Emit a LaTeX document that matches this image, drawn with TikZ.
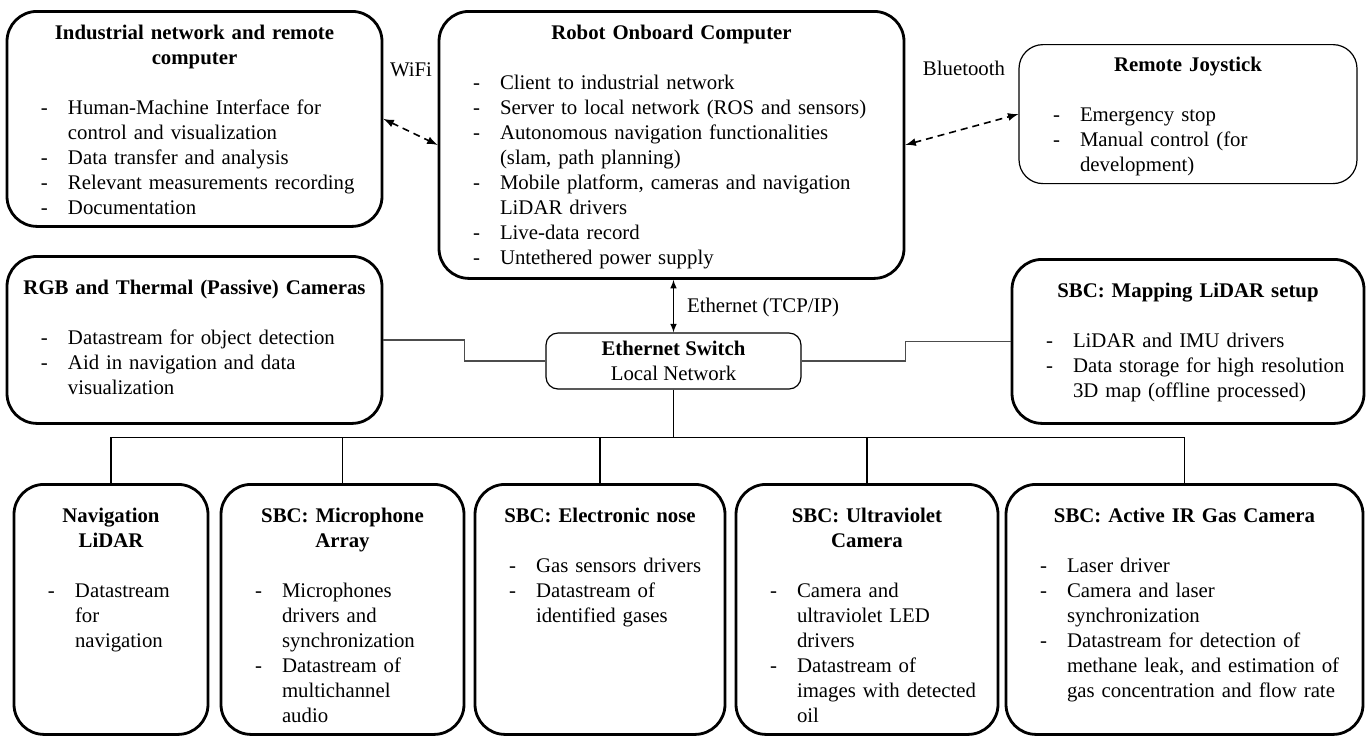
\documentclass[tikz,border=0pt]{standalone}
\usepackage{fontspec}
\setmainfont{Liberation Serif}

\newcommand{\boxhead}[1]{{\centering\bfseries #1\par}\vskip\baselineskip}
\newcommand{\dashitem}[1]{\par\hangindent=30.5pt\hangafter=1\noindent\hspace*{17pt}\makebox[13.5pt][l]{-}{\let\\\newline #1}\par}

\begin{document}
\begin{tikzpicture}[x=0.5pt,y=-0.5pt,font=\fontsize{10.4pt}{12.5pt}\selectfont,
  box/.style={draw, line width=1.4pt, rounded corners=15pt, anchor=north, inner sep=0pt,
    execute at begin node={\raggedright\parskip=0pt}},
  thinbox/.style={box, line width=0.6pt, rounded corners=12pt},
  wireless/.style={dashed, dash pattern=on 3.5pt off 2.5pt, line width=0.8pt, latex-latex},
  link/.style={black!70, line width=0.6pt}]
\useasboundingbox (0,0) rectangle (1371,736);

% top row
\node[box, text width=187.5pt, text height=14pt, text depth=93.5pt] (inet) at (194.5,10) {\boxhead{Industrial network and remote\\computer}
\dashitem{Human-Machine Interface for\\control and visualization}
\dashitem{Data transfer and analysis}
\dashitem{Relevant measurements recording}
\dashitem{Documentation}};

\node[box, text width=232.5pt, text height=14pt, text depth=119.5pt] (robot) at (671.5,10) {\boxhead{Robot Onboard Computer}
\dashitem{Client to industrial network}
\dashitem{Server to local network (ROS and sensors)}
\dashitem{Autonomous navigation functionalities\\(slam, path planning)}
\dashitem{Mobile platform, cameras and navigation\\LiDAR drivers}
\dashitem{Live-data record}
\dashitem{Untethered power supply}};

\node[thinbox, text width=169pt, text height=13.5pt, text depth=56pt] (joy) at (1188,44) {\boxhead{Remote Joystick}
\dashitem{Emergency stop}
\dashitem{Manual control (for\\development)}};

\node (wifi) at (411,70) {WiFi};
\node (bt) at (964,68) {Bluetooth};
\draw[wireless] (inet.east) -- (robot.west);
\draw[wireless] (robot.east) -- (joy.west);

% middle row
\node[box, text width=187.5pt, text height=19pt, text depth=64.5pt] (rgb) at (194.5,255) {\boxhead{RGB and Thermal (Passive) Cameras}
\dashitem{Datastream for object detection}
\dashitem{Aid in navigation and data\\visualization}};

\node[box, text width=176pt, text height=19pt, text depth=63pt] (map) at (1188,258) {\boxhead{SBC: Mapping LiDAR setup}
\dashitem{LiDAR and IMU drivers}
\dashitem{Data storage for high resolution\\3D map (offline processed)}};

\node[draw, line width=0.6pt, rounded corners=6pt, minimum width=127.5pt, minimum height=28pt, inner sep=0pt, align=center] (switch) at (673.5,361) {\textbf{Ethernet Switch}\\Local Network};

\draw[latex-latex, line width=0.5pt] (switch.north |- robot.south) -- (switch.north);
\node[anchor=west] (eth) at (680,307) {Ethernet (TCP/IP)};

\draw[link] (rgb.east) -- ++(81,0) |- (switch.west);
\draw[link] (map.west) -- ++(-105,0) |- (switch.east);

% bottom row
\node[box, text width=97pt, text height=19pt, text depth=106pt] (nav) at (111,483) {\boxhead{Navigation\\LiDAR}
\dashitem{Datastream\\for\\navigation}};

\node[box, text width=121.5pt, text height=19pt, text depth=106pt] (mic) at (342.5,483) {\boxhead{SBC: Microphone\\Array}
\dashitem{Microphones\\drivers and\\synchronization}
\dashitem{Datastream of\\multichannel\\audio}};

\node[box, text width=125pt, text height=19pt, text depth=106pt] (nose) at (600,483) {\boxhead{SBC: Electronic nose}
\dashitem{Gas sensors drivers}
\dashitem{Datastream of\\identified gases}};

\node[box, text width=131pt, text height=19pt, text depth=106pt] (uv) at (867,483) {\boxhead{SBC: Ultraviolet\\Camera}
\dashitem{Camera and\\ultraviolet LED\\drivers}
\dashitem{Datastream of\\images with detected\\oil}};

\node[box, text width=178.5pt, text height=19pt, text depth=106pt] (ir) at (1184.5,483) {\boxhead{SBC: Active IR Gas Camera}
\dashitem{Laser driver}
\dashitem{Camera and laser\\synchronization}
\dashitem{Datastream for detection of\\methane leak, and estimation of\\gas concentration and flow rate}};

\draw[line width=0.9pt] (switch.south) -- ++(0,48) coordinate (bus);
\foreach \b in {nav,mic,nose,uv,ir}
  \draw[line width=0.6pt] (\b.north) |- (bus);

\end{tikzpicture}
\end{document}
